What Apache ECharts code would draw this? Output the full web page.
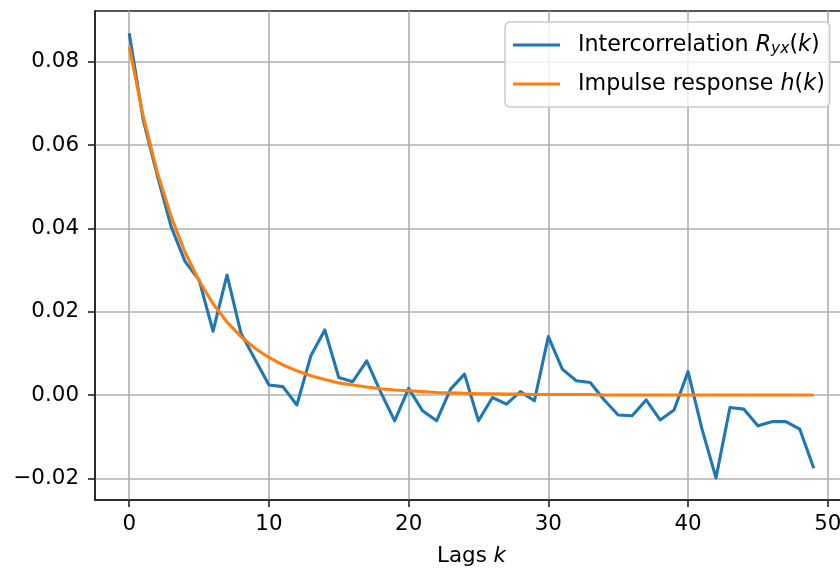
<!DOCTYPE html>
<html>
<head>
<meta charset="utf-8">
<script src="https://cdn.jsdelivr.net/npm/echarts@6/dist/echarts.min.js"></script>
<style>
html,body{margin:0;padding:0;background:#fff;}
#c{width:840px;height:570px;}
</style>
</head>
<body>
<div id="c"></div>
<script>
var lags = [0,1,2,3,4,5,6,7,8,9,10,11,12,13,14,15,16,17,18,19,20,21,22,23,24,25,26,27,28,29,30,31,32,33,34,35,36,37,38,39,40,41,42,43,44,45,46,47,48,49];
var intercorrelation = [0.0868,0.0660,0.0528,0.0404,0.0320,0.0276,0.0153,0.0288,0.0148,0.0086,0.0024,0.0020,-0.0024,0.0094,0.0156,0.0042,0.0032,0.0082,0.0007,-0.0062,0.0016,-0.0038,-0.0062,0.0014,0.0050,-0.0062,-0.0006,-0.0022,0.0008,-0.0014,0.0140,0.0062,0.0034,0.0030,-0.0012,-0.0048,-0.0050,-0.0012,-0.0060,-0.0036,0.0056,-0.0082,-0.0199,-0.0030,-0.0034,-0.0074,-0.0064,-0.0064,-0.0082,-0.0176];
var impulse = [0.0836,0.0669,0.0535,0.0428,0.0342,0.0274,0.0219,0.0175,0.0140,0.0112,0.0090,0.0072,0.0058,0.0046,0.0037,0.0029,0.0024,0.0019,0.0015,0.0012,0.0010,0.0008,0.0006,0.0005,0.0004,0.0003,0.0003,0.0002,0.0002,0.0001,0.0001,0.0001,0.0001,0.0001,0.0000,0.0000,0.0000,0.0000,0.0000,0.0000,0.0000,0.0000,0.0000,0.0000,0.0000,0.0000,0.0000,0.0000,0.0000,0.0000];
var xTicks = [0,10,20,30,40,50];
var yTicks = [-0.02,0.00,0.02,0.04,0.06,0.08];
var seriesNames = ['Intercorrelation', 'Impulse response'];

var FONT = 'DejaVu Sans';
var FS = 21.4;
var LFS = 22.2;
function pairs(ys){ return lags.map(function(k,i){ return [k, ys[i]]; }); }

var chart = echarts.init(document.getElementById('c'), null, {renderer:'canvas'});
chart.setOption({
  backgroundColor: '#ffffff',
  animation: false,
  textStyle: {fontFamily: FONT, color: '#000'},
  grid: {left: 95, top: 11, width: 753, height: 489, outerBoundsMode: 'none', containLabel: false,
    show: true, borderColor: '#222', borderWidth: 1.6, backgroundColor: 'transparent'},
  xAxis: {
    type: 'value', min: -2.45, max: 51.45,
    axisLine: {show: true, onZero: false, lineStyle: {color: '#222', width: 1.6}},
    axisTick: {show: true, length: 7, lineStyle: {color: '#222', width: 1.6}, customValues: xTicks},
    axisLabel: {customValues: xTicks, margin: 14, fontFamily: FONT, fontSize: FS, color: '#000', hideOverlap: false,
      formatter: function(v){ return String(v); }},
    splitLine: {show: true, lineStyle: {color: '#b0b0b0', width: 1.6}},
    name: '{n|Lags }{i|k}', nameLocation: 'middle', nameGap: 46,
    nameTextStyle: {rich: {n: {fontFamily: FONT, fontSize: FS, color: '#000'}, i: {fontFamily: FONT, fontSize: FS, fontStyle: 'italic', color: '#000'}}}
  },
  yAxis: {
    type: 'value', min: -0.0252, max: 0.09214,
    axisLine: {show: true, onZero: false, lineStyle: {color: '#222', width: 1.6}},
    axisTick: {show: true, length: 7, lineStyle: {color: '#222', width: 1.6}, customValues: yTicks},
    axisLabel: {customValues: yTicks, margin: 16, fontFamily: FONT, fontSize: FS, color: '#000',
      formatter: function(v){ return v.toFixed(2).replace('-', '\u2212'); }},
    splitLine: {show: true, lineStyle: {color: '#b0b0b0', width: 1.6}}
  },
  legend: {
    show: true, orient: 'vertical', left: 505, top: 22,
    data: seriesNames,
    icon: 'rect', itemWidth: 47, itemHeight: 3, itemGap: 16,
    padding: [12, 5, 12, 8],
    backgroundColor: 'rgba(255,255,255,0.8)', borderColor: '#cccccc', borderWidth: 1.5, borderRadius: 5,
    textStyle: {fontFamily: FONT, fontSize: LFS, color: '#000', padding: [0,0,0,13],
      rich: {
        n: {fontFamily: FONT, fontSize: LFS, color: '#000'},
        i: {fontFamily: FONT, fontSize: LFS, fontStyle: 'italic', color: '#000'},
        s: {fontFamily: FONT, fontSize: 15.5, fontStyle: 'italic', color: '#000', verticalAlign: 'bottom', padding: [8,0,0,0]}
      }},
    formatter: function(name){
      if (name === seriesNames[0]) return '{n|Intercorrelation }{i|R}{s|yx}{n|(}{i|k}{n|)}';
      return '{n|Impulse response }{i|h}{n|(}{i|k}{n|)}';
    }
  },
  series: [
    {name: seriesNames[0], type: 'line', data: pairs(intercorrelation), showSymbol: false, symbol: 'none',
      lineStyle: {color: '#1f77b4', width: 3.1, join: 'round', cap: 'butt'}, itemStyle: {color: '#1f77b4'}, z: 3},
    {name: seriesNames[1], type: 'line', data: pairs(impulse), showSymbol: false, symbol: 'none',
      lineStyle: {color: '#ff7f0e', width: 3.1, join: 'round', cap: 'butt'}, itemStyle: {color: '#ff7f0e'}, z: 4}
  ]
});
</script>
</body>
</html>
